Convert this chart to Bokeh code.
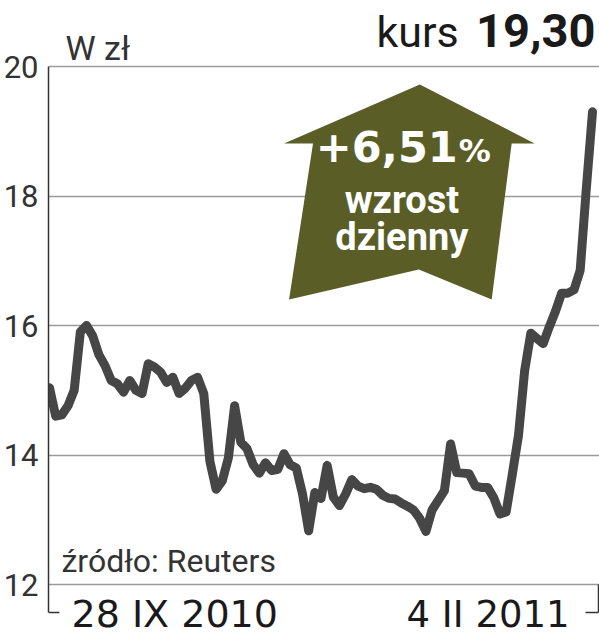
from bokeh.plotting import figure
from bokeh.models import Range1d, FixedTicker, Label
from bokeh.embed import file_html
from bokeh.resources import INLINE

# ---- data ----
prices = [15.04, 14.60, 14.62, 14.76, 15.00, 15.90, 16.00, 15.84, 15.55, 15.38,
          15.15, 15.10, 14.97, 15.15, 15.00, 14.95, 15.41, 15.36, 15.28, 15.12,
          15.20, 14.95, 15.03, 15.15, 15.20, 14.95, 13.90, 13.47, 13.60, 13.96,
          14.76, 14.20, 14.10, 13.85, 13.72, 13.88, 13.76, 13.78, 14.02, 13.85,
          13.80, 13.40, 12.83, 13.42, 13.33, 13.84, 13.35, 13.22, 13.40, 13.62,
          13.52, 13.48, 13.50, 13.47, 13.38, 13.33, 13.32, 13.26, 13.21, 13.15,
          13.02, 12.82, 13.15, 13.30, 13.45, 14.17, 13.73, 13.72, 13.71, 13.52,
          13.50, 13.50, 13.34, 13.09, 13.12, 13.70, 14.30, 15.30, 15.88, 15.80,
          15.72, 15.98, 16.22, 16.50, 16.50, 16.55, 16.85, 18.12, 19.30]
days = list(range(len(prices)))
y_ticks = [12, 14, 16, 18, 20]
start_label = "28 IX 2010"
end_label = "4 II 2011"
unit_label = "W zł"
source_label = "źródło: Reuters"
price_word = "kurs"
price_text = "19,30"
change_text = "+6,51"
change_pct = "%"
change_words = ["wzrost", "dzienny"]

# ---- layout helpers (reference pixel -> data) ----
PX_PER_DAY = 6.1818
PX_PER_UNIT = 64.75
W, H = 599, 640
LEFT = 47
def rx(px):
    return (px - 48) / PX_PER_DAY
def ry(py):
    return 20 - (py - 66) / PX_PER_UNIT

x_start = rx(LEFT)
x_end = rx(W)
y_start = ry(H)
y_end = ry(0)

p = figure(width=W, height=H, output_backend="svg", toolbar_location=None,
           x_range=Range1d(x_start, x_end), y_range=Range1d(y_start, y_end),
           x_axis_type=None, min_border_left=LEFT, min_border_right=0,
           min_border_top=0, min_border_bottom=0)
p.outline_line_color = None
p.background_fill_color = "white"
p.border_fill_color = "white"

y_b = ry(612)
ax = p.yaxis[0]
ax.ticker = FixedTicker(ticks=y_ticks)
ax.bounds = (y_b, 20)
ax.major_tick_line_color = None
ax.minor_tick_line_color = None
ax.major_tick_out = 0
ax.major_tick_in = 0
ax.axis_line_color = "#333333"
ax.axis_line_width = 1.5
ax.major_label_text_font = "Roboto"
ax.major_label_text_font_size = "31px"
ax.major_label_text_color = "#333333"
ax.major_label_standoff = 10

p.ygrid.ticker = FixedTicker(ticks=y_ticks)
p.ygrid.grid_line_color = "#9a9a9a"
p.ygrid.grid_line_width = 1.5

# arrow
arrow_px = [(419, 84), (534, 143), (511, 143), (491, 299), (418, 269),
            (288, 299), (312, 143), (283, 143)]
p.patch([rx(a) for a, b in arrow_px], [ry(b) for a, b in arrow_px],
        fill_color="#5a5e26", line_color=None)

# price line
p.line(days, prices, line_width=9, line_color="#464646",
       line_join="round", line_cap="round")

# bottom brackets
p.segment(x0=[x_start, rx(598), rx(585)], y0=[y_b, 12, y_b],
          x1=[rx(58), rx(598), rx(598)], y1=[y_b, y_b, y_b],
          line_color="#333333", line_width=1.5)

def lab(px, py, text, font, size, style="normal", color="#222222", align="left"):
    # py is the wanted baseline in pixels; compensate the renderer's baseline offset
    adj = py - 0.37 * size
    p.add_layout(Label(x=rx(px), y=ry(adj), text=text, text_font=font,
                       text_font_size=f"{size}px", text_font_style=style,
                       text_color=color, text_align=align,
                       text_baseline="alphabetic"))

lab(64, 60, unit_label, "Roboto", 34, color="#333333")
lab(458, 47, price_word, "Roboto", 43, color="#1a1a1a", align="right")
lab(595, 47, price_text, "Roboto", 47, style="bold", color="#1a1a1a", align="right")
lab(457, 162, change_text, "DejaVu Sans", 43, style="bold", color="white", align="right")
lab(458, 162, change_pct, "DejaVu Sans", 32, style="bold", color="white")
lab(401, 214, change_words[0], "Roboto", 38, style="bold", color="white", align="center")
lab(401, 251, change_words[1], "Roboto", 38, style="bold", color="white", align="center")
lab(60, 572, source_label, "Roboto", 32, color="#333333")
lab(70, 628, start_label, "DejaVu Sans", 38, color="#1a1a1a")
lab(569, 628, end_label, "DejaVu Sans", 37, color="#1a1a1a", align="right")

open("out.html", "w").write(file_html(p, INLINE))
